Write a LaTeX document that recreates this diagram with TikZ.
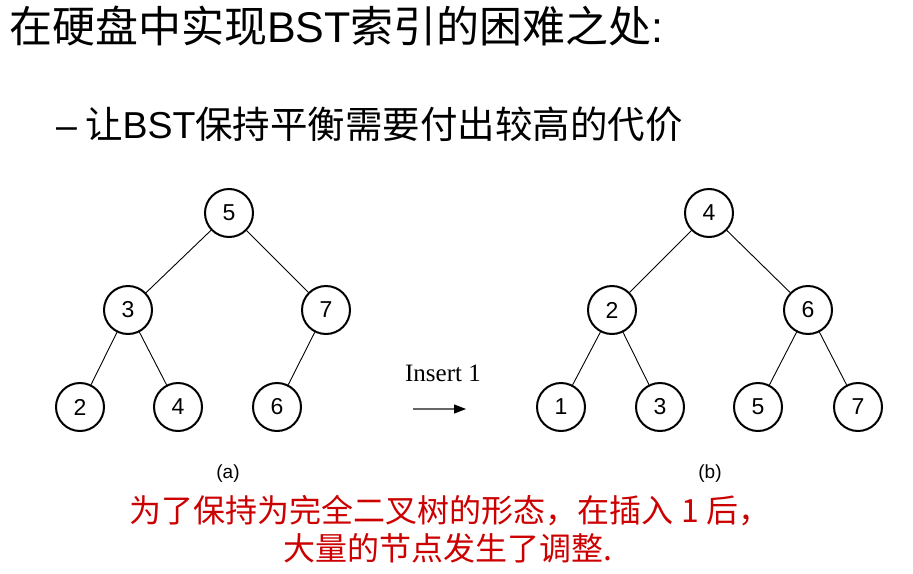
\documentclass[tikz,border=0pt]{standalone}
\usepackage{fontspec}
\setmainfont{Liberation Sans}
\newfontfamily\cjk{Noto Sans CJK SC}
\newfontfamily\tms{Liberation Serif}
\usetikzlibrary{arrows.meta}
\definecolor{redtxt}{RGB}{204,0,0}
\begin{document}
\begin{tikzpicture}[x=1pt,y=-1pt,
  tnode/.style={circle,draw,line width=2pt,minimum size=48pt,inner sep=0pt,font=\fontsize{23}{23}\selectfont},
  tedge/.style={line width=0.9pt},
  lbl/.style={font=\fontsize{19}{19}\selectfont}]
\useasboundingbox (0,0) rectangle (913,573);
% title
\node[anchor=west,inner sep=0pt,font=\fontsize{43}{43}\selectfont] (title) at (9,26) {{\cjk 在硬盘中实现}BST{\cjk 索引的困难之处}:};
\node[anchor=west,inner sep=0pt,font=\fontsize{37.5}{37.5}\selectfont] (sub) at (56,124) {–\hspace{8pt}{\cjk 让}BST{\cjk 保持平衡需要付出较高的代价}};
% tree a
\node[tnode] (a5) at (229,213) {5};
\node[tnode] (a3) at (128,310) {3};
\node[tnode] (a7) at (326,310) {7};
\node[tnode] (a2) at (80,407) {2};
\node[tnode] (a4) at (178,407) {4};
\node[tnode] (a6) at (277,407) {6};
\draw[tedge] (a5) -- (a3);
\draw[tedge] (a5) -- (a7);
\draw[tedge] (a3) -- (a2);
\draw[tedge] (a3) -- (a4);
\draw[tedge] (a7) -- (a6);
% tree b
\node[tnode] (b4) at (709,213) {4};
\node[tnode] (b2) at (612,310) {2};
\node[tnode] (b6) at (808,310) {6};
\node[tnode] (b1) at (561,407) {1};
\node[tnode] (b3) at (660,407) {3};
\node[tnode] (b5) at (758,407) {5};
\node[tnode] (b7) at (858,407) {7};
\draw[tedge] (b4) -- (b2);
\draw[tedge] (b4) -- (b6);
\draw[tedge] (b2) -- (b1);
\draw[tedge] (b2) -- (b3);
\draw[tedge] (b6) -- (b5);
\draw[tedge] (b6) -- (b7);
% insert
\node[font=\tms\fontsize{25}{25}\selectfont] (ins) at (443,373) {Insert 1};
\coordinate (arS) at (413,409);
\coordinate (arE) at (466,409);
\draw[line width=1.2pt,draw=black!60,-{Triangle[length=12pt,width=9pt,fill=black,color=black]}] (arS) -- (arE);
% captions
\node[lbl] (ca) at (228,474) {(a)};
\node[lbl] (cb) at (710,474) {(b)};
% red text
\node[text=redtxt,font=\cjk\fontsize{32}{32}\selectfont] (r1) at (450,511) {为了保持为完全二叉树的形态，在插入 1 后，};
\node[text=redtxt,font=\cjk\fontsize{32}{32}\selectfont] (r2) at (448,548) {大量的节点发生了调整.};
\end{tikzpicture}
\end{document}
